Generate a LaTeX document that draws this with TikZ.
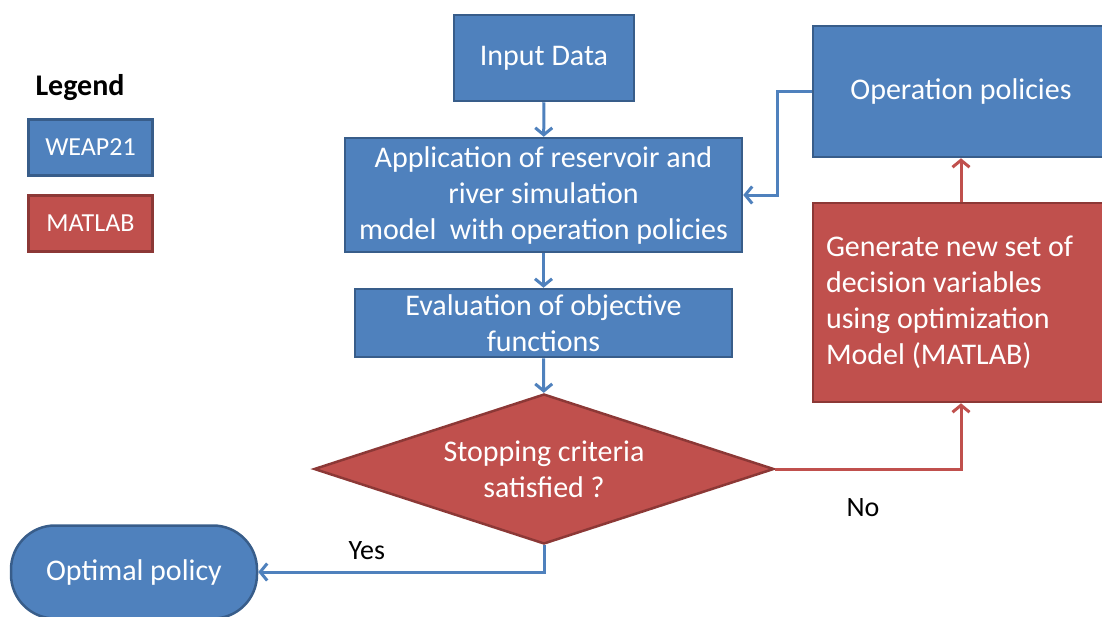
\documentclass[tikz,border=0pt]{standalone}
\usepackage{fontspec}
\setmainfont{Carlito}
\usepackage{xcolor}
\usepackage{tikz}
\usetikzlibrary{shapes.geometric,arrows.meta}
\definecolor{weapblue}{HTML}{4F81BD}
\definecolor{weapline}{HTML}{385D8A}
\definecolor{matred}{HTML}{C0504D}
\definecolor{matline}{HTML}{8C3836}

\begin{document}
\begin{tikzpicture}[x=1pt,y=-1pt,
		weapbox/.style={draw=weapline, fill=weapblue, line width=2.5pt, text=white, align=center, inner sep=0pt, font=\fontsize{30}{36}\selectfont},
		matbox/.style={draw=matline, fill=matred, line width=2.5pt, text=white, align=center, inner sep=0pt, font=\fontsize{30}{36}\selectfont},
		legbox/.style={minimum width=124pt, minimum height=56pt, font=\fontsize{26}{30}\selectfont},
		bluearrow/.style={draw=weapblue, line width=3pt, -{Straight Barb[length=7pt,width=17pt]}},
		redarrow/.style={draw=matred, line width=3pt, -{Straight Barb[length=7pt,width=17pt]}},
		answer/.style={inner sep=0pt, text=black, font=\fontsize{28}{32}\selectfont}]
				\clip (0,0) rectangle (1102,616);
				
				% legend
				\node[font=\fontsize{30}{36}\selectfont\bfseries] (legend) at (80,88) {Legend};
				\node[weapbox, legbox] (legweap) at (90.5,147.5) {WEAP21};
				\node[matbox, legbox] (legmat) at (90.5,223.5) {MATLAB};
				
				% main flow
				\node[weapbox, minimum width=180pt, minimum height=86pt] (input) at (544,58) {Input Data};
				\node[weapbox, minimum width=397pt, minimum height=114pt] (app) at (543.5,195) {Application of reservoir and\\river simulation\\model\ \ with operation policies};
				\node[weapbox, minimum width=377pt, minimum height=68pt] (eval) at (543.5,323) {Evaluation of objective\\functions};
				\node[matbox, diamond, aspect=3.04, minimum width=460pt, minimum height=150pt] (stop) at (544,469) {Stopping criteria\\satisfied ?};
				\node[weapbox, rounded corners=44pt, minimum width=246pt, minimum height=93pt] (optimal) at (134,572) {Optimal policy};
				
				% optimization loop
				\node[weapbox, minimum width=296pt, minimum height=131pt] (oppol) at (961,91.5) {Operation policies};
				\node[matbox, align=flush left, text width=270pt, minimum width=296pt, minimum height=199pt] (gen) at (961,302.5) {Generate new set of\\decision variables\\using optimization\\Model (MATLAB)};
				
				\draw[bluearrow] (input) -- (app);
				\draw[bluearrow] (app) -- (eval);
				\draw[bluearrow] (eval) -- (stop);
				\draw[bluearrow] (oppol.west) -- ++(-34,0) |- (app.east);
				\draw[bluearrow] (stop.south) |- (optimal.east) node[answer, above=11pt, pos=0.81] (yes) {Yes};
				\draw[redarrow] (stop.east) -| (gen.south) node[answer, below=28pt, pos=0.236] (no) {No};
				\draw[redarrow] (gen) -- (oppol);
			\end{tikzpicture}
\end{document}
